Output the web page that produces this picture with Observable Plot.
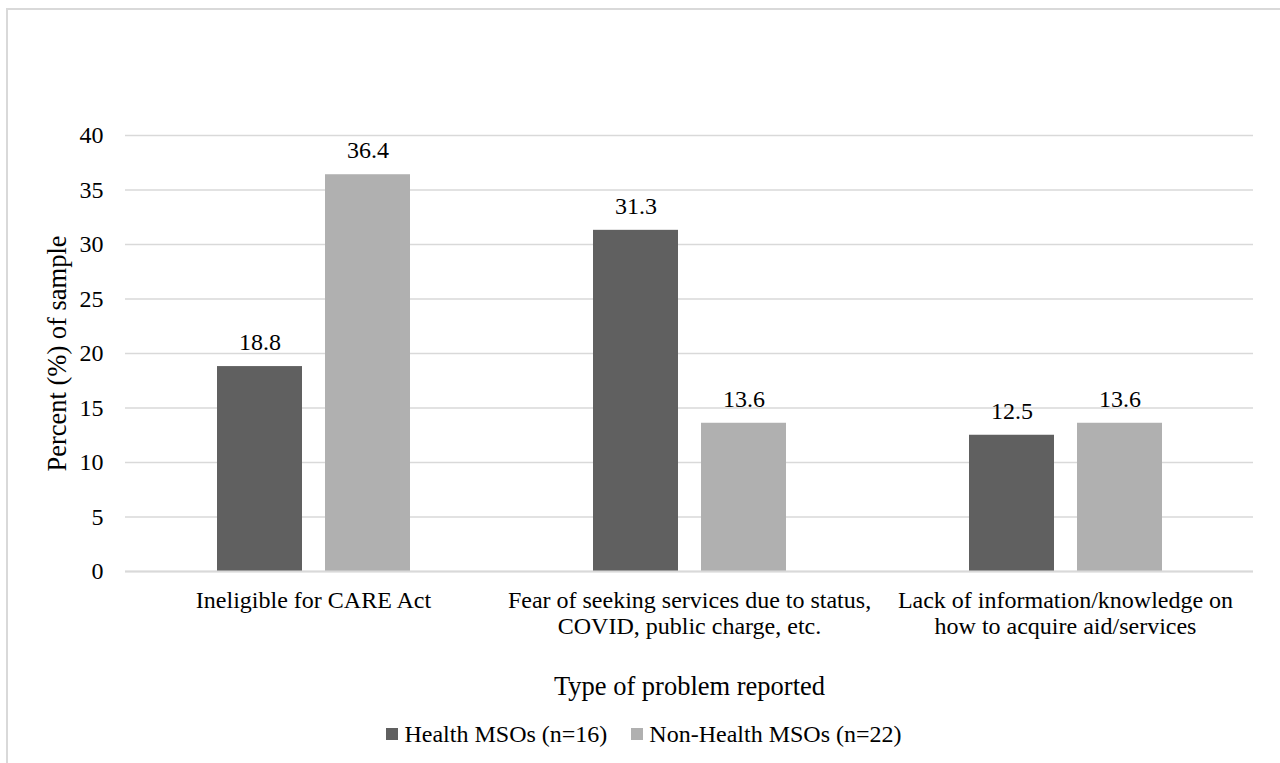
<!DOCTYPE html>
<html>
<head>
<meta charset="utf-8">
<script src="https://cdn.jsdelivr.net/npm/d3@7"></script>
<script src="https://cdn.jsdelivr.net/npm/@observablehq/plot@0.6"></script>
<style>
  html, body { margin: 0; padding: 0; background: #fff; overflow: hidden; width: 1280px; height: 763px; }
  #frame { position: absolute; left: 6px; top: 8px; width: 1300px; height: 800px; border: 2px solid #d9d9d9; box-sizing: border-box; }
  #chart { position: absolute; left: 0; top: 0; width: 1280px; }
  #legend { display: flex; justify-content: center; gap: 24px; margin-top: 12px; padding-left: 8px;
            font-family: "Liberation Serif", "Times New Roman", Times, "DejaVu Serif", serif; font-size: 24px; line-height: 24px; color: #000; }
  .item { display: flex; align-items: center; gap: 6px; }
  .sw { width: 12px; height: 12px; display: inline-block; }
  #chart svg text { font-family: "Liberation Serif", "Times New Roman", Times, "DejaVu Serif", serif; }
</style>
</head>
<body>
<div id="frame"></div>
<div id="chart"></div>
<script>
const categories = [
  "Ineligible for CARE Act",
  "Fear of seeking services due to status,\nCOVID, public charge, etc.",
  "Lack of information/knowledge on\nhow to acquire aid/services"
];
const series = ["Health MSOs (n=16)", "Non-Health MSOs (n=22)"];
const healthValues = [18.8, 31.3, 12.5];
const nonHealthValues = [36.4, 13.6, 13.6];
const seriesColors = ["#606060", "#b0b0b0"];
const yTicks = [0, 5, 10, 15, 20, 25, 30, 35, 40];
const xTitle = "Type of problem reported";
const yTitle = "Percent (%) of sample";

const data = [];
categories.forEach((c, i) => {
  data.push({category: c, series: series[0], value: healthValues[i]});
  data.push({category: c, series: series[1], value: nonHealthValues[i]});
});

const chart = Plot.plot({
  width: 1280,
  height: 710,
  marginTop: 135,
  marginBottom: 139,
  marginLeft: 125,
  marginRight: 27,
  style: {fontFamily: "'Liberation Serif', 'Times New Roman', Times, 'DejaVu Serif', serif", fontSize: "24px", color: "#000", background: "transparent"},
  fx: {domain: categories, padding: 0},
  x: {domain: series, paddingInner: 0.213, paddingOuter: 0.847, axis: null},
  y: {domain: [0, 40]},
  color: {domain: series, range: seriesColors},
  marks: [
    Plot.gridY(yTicks, {stroke: "#d9d9d9", strokeOpacity: 1, strokeWidth: 1.5}),
    Plot.barY(data, {fx: "category", x: "series", y: "value", fill: "series"}),
    Plot.text(data, {fx: "category", x: "series", y: "value", text: d => d.value.toFixed(1), dy: -24, fontSize: 24, fill: "#000"}),
    Plot.ruleY([0], {stroke: "#d9d9d9", strokeWidth: 2}),
    Plot.axisY(yTicks, {tickSize: 0, tickPadding: 22, fontSize: 24, label: null}),
    Plot.axisY([], {tickSize: 0, fontSize: 26.5, label: yTitle, labelAnchor: "center", labelOffset: 78, labelArrow: "none"}),
    Plot.axisFx({anchor: "bottom", tickSize: 0, tickPadding: 19, fontSize: 24, lineHeight: 1.05, label: null}),
    Plot.axisFx([], {anchor: "bottom", tickSize: 0, fontSize: 26.5, label: xTitle, labelAnchor: "center", labelOffset: 123, labelArrow: "none"})
  ]
});
document.getElementById("chart").appendChild(chart);

const legend = document.createElement("div");
legend.id = "legend";
series.forEach((s, i) => {
  const item = document.createElement("span");
  item.className = "item";
  const sw = document.createElement("span");
  sw.className = "sw";
  sw.style.background = seriesColors[i];
  item.appendChild(sw);
  item.appendChild(document.createTextNode(s));
  legend.appendChild(item);
});
document.getElementById("chart").appendChild(legend);
</script>
</body>
</html>
